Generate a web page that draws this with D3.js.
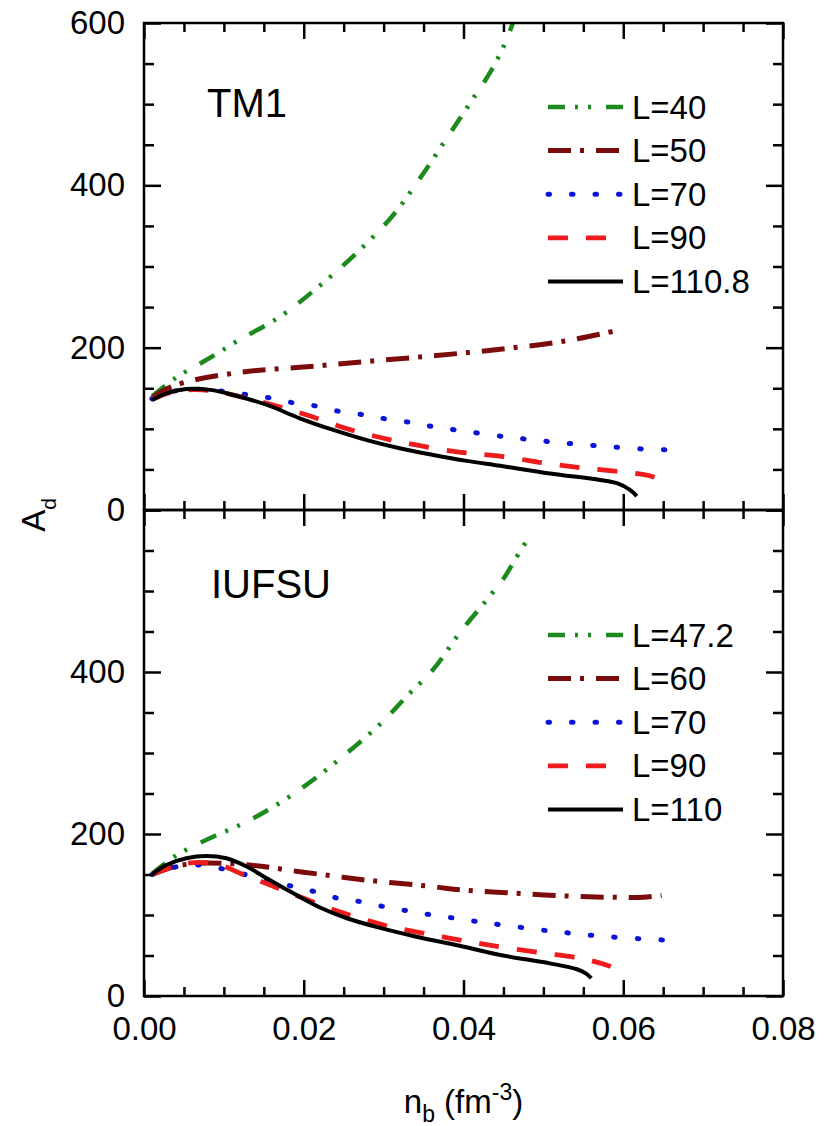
<!DOCTYPE html>
<html>
<head>
<meta charset="utf-8">
<script src="https://cdn.jsdelivr.net/npm/d3@7/dist/d3.min.js"></script>
<style>
  html, body { margin: 0; padding: 0; background: #fff; }
  svg { display: block; }
  text { font-family: "Liberation Sans", Arial, Helvetica, sans-serif; fill: #000; }
</style>
</head>
<body>
<svg id="chart" width="834" height="1126"></svg>
<script>
// ---- Data: A_d versus baryon density n_b (fm^-3) ----
// TM1 parameter set
const tm1_L40_nb = [0.001, 0.004, 0.008, 0.012, 0.017, 0.0216, 0.026, 0.031, 0.0345, 0.0383, 0.0408, 0.0435, 0.0452, 0.0466];
const tm1_L40_Ad = [140, 163, 186, 210, 238, 273, 311, 361, 408, 464, 501, 542, 575, 612];
const tm1_L50_nb = [0.001, 0.002, 0.005, 0.0124, 0.0204, 0.0279, 0.0362, 0.0446, 0.0529, 0.0587];
const tm1_L50_Ad = [137, 145, 157, 170, 176.5, 183, 190, 198, 208.5, 220];
const tm1_L70_nb = [0.001, 0.003, 0.007, 0.0101, 0.0129, 0.0158, 0.0187, 0.0216, 0.0247, 0.0277, 0.0304, 0.0335, 0.0362, 0.0391, 0.0452, 0.051, 0.0569, 0.0628, 0.0657];
const tm1_L70_Ad = [137, 145, 148.7, 146, 142, 138, 132, 128, 121, 117, 112, 107.6, 102.6, 98.6, 90.3, 84, 79, 75, 74];
const tm1_L90_nb = [0.001, 0.003, 0.0055, 0.0085, 0.0115, 0.0155, 0.0204, 0.0258, 0.032, 0.039, 0.045, 0.0504, 0.0554, 0.0604, 0.0637, 0.0658];
const tm1_L90_Ad = [136, 144, 148, 147, 141, 131, 117, 99, 84, 72, 65.7, 57.5, 51.3, 46.4, 41, 31];
const tm1_L1108_nb = [0.001, 0.0028, 0.0053, 0.0083, 0.0112, 0.0154, 0.0195, 0.0237, 0.0279, 0.032, 0.0362, 0.0404, 0.0446, 0.0508, 0.0571, 0.0592, 0.0608, 0.0617];
const tm1_L1108_Ad = [135.5, 143.7, 149, 148, 141.7, 129.4, 113, 98.6, 86, 76, 67.8, 60.5, 54.4, 45, 37, 33, 25, 17];

// IUFSU parameter set
const iu_L472_nb = [0.001, 0.0041, 0.0083, 0.0124, 0.0166, 0.0212, 0.0254, 0.0295, 0.0329, 0.0362, 0.0395, 0.0429, 0.0452, 0.0464, 0.0481];
const iu_L472_Ad = [151, 174, 195, 213, 236, 267, 300, 335, 370, 403, 448, 489, 518, 538, 565];
const iu_L60_nb = [0.001, 0.004, 0.007, 0.0129, 0.0195, 0.0279, 0.0362, 0.0396, 0.0454, 0.0516, 0.0579, 0.0625, 0.0648];
const iu_L60_Ad = [150, 160, 164, 162, 153.5, 143, 135, 131, 127.5, 124, 122, 122, 124];
const iu_L70_nb = [0.001, 0.0041, 0.007, 0.0101, 0.0129, 0.0158, 0.0187, 0.0214, 0.0243, 0.0272, 0.0302, 0.0331, 0.036, 0.0389, 0.0418, 0.0448, 0.0506, 0.0565, 0.0625, 0.0654];
const iu_L70_Ad = [150, 159.6, 161.7, 156.4, 149.4, 143, 135, 128.8, 120.6, 116.4, 110, 105, 100, 96, 91.7, 87.7, 80.6, 74.5, 70.4, 69];
const iu_L90_nb = [0.001, 0.004, 0.007, 0.0095, 0.0124, 0.0158, 0.0195, 0.0245, 0.030, 0.0362, 0.0425, 0.0496, 0.0546, 0.0579, 0.060];
const iu_L90_Ad = [150, 161, 165, 162, 150, 137, 122.6, 104, 87.7, 75.3, 64, 53.5, 46.5, 38.3, 30];
const iu_L110_nb = [0.001, 0.0028, 0.0053, 0.0078, 0.0103, 0.0129, 0.0154, 0.0187, 0.0221, 0.0254, 0.0292, 0.0341, 0.0395, 0.0446, 0.0508, 0.0542, 0.0553, 0.056];
const iu_L110_Ad = [150, 161.7, 170, 172.8, 170, 159.6, 145, 126.8, 109, 96, 85, 73.2, 62, 50.6, 40.3, 33, 28, 22];

// Axis ticks
const xMajorTicks = [0, 0.02, 0.04, 0.06, 0.08];
const xMinorTicks = d3.range(0, 0.0801, 0.005).filter(v => Math.abs(v / 0.02 - Math.round(v / 0.02)) > 1e-6);
const yTopLabels = [0, 200, 400, 600];
const yBotLabels = [0, 200, 400];
const yMajorTicks = [0, 200, 400, 600];
const yMinorTicks = [50, 100, 150, 250, 300, 350, 450, 500, 550];

// Line styles per curve
const styles = [
  { color: "#1c8a1c", width: 4.5, dash: "17,10,3,10,3,15", cap: "butt" },   // lowest L
  { color: "#7c0b0b", width: 5,   dash: "23,9,4,12",         cap: "butt" },   // second L
  { color: "#0a14d6", width: 5,   dash: "1.5,22",            cap: "round" },  // L=70
  { color: "#ee1c1c", width: 4.8, dash: "20,18",             cap: "butt" },   // L=90
  { color: "#000000", width: 4,   dash: null,                cap: "butt" }    // highest L
];

const panels = [
  {
    name: "TM1", id: "top",
    series: [
      { label: "L=40",    nb: tm1_L40_nb,   Ad: tm1_L40_Ad },
      { label: "L=50",    nb: tm1_L50_nb,   Ad: tm1_L50_Ad },
      { label: "L=70",    nb: tm1_L70_nb,   Ad: tm1_L70_Ad },
      { label: "L=90",    nb: tm1_L90_nb,   Ad: tm1_L90_Ad },
      { label: "L=110.8", nb: tm1_L1108_nb, Ad: tm1_L1108_Ad }
    ],
    yLabels: yTopLabels, range: [510, 23], legendY: 107, titleX: 207, titleY: 117
  },
  {
    name: "IUFSU", id: "bottom",
    series: [
      { label: "L=47.2", nb: iu_L472_nb, Ad: iu_L472_Ad },
      { label: "L=60",   nb: iu_L60_nb,  Ad: iu_L60_Ad },
      { label: "L=70",   nb: iu_L70_nb,  Ad: iu_L70_Ad },
      { label: "L=90",   nb: iu_L90_nb,  Ad: iu_L90_Ad },
      { label: "L=110",  nb: iu_L110_nb, Ad: iu_L110_Ad }
    ],
    yLabels: yBotLabels, range: [996, 510], legendY: 635, titleX: 211, titleY: 598
  }
];

const svg = d3.select("#chart");
svg.append("rect").attr("width", 834).attr("height", 1126).attr("fill", "#fff");

const x = d3.scaleLinear().domain([0, 0.08]).range([144, 783]);
const left = x.range()[0], right = x.range()[1];
const legendStep = 43.6;

panels.forEach((p, pi) => {
  const y = d3.scaleLinear().domain([0, 600]).range(p.range);
  const yTop = p.range[1], yBottom = p.range[0];

  // clip region for the curves
  svg.append("clipPath").attr("id", "clip-" + p.id)
    .append("rect").attr("x", left).attr("y", yTop)
    .attr("width", right - left).attr("height", yBottom - yTop);

  const line = d3.line()
    .x(d => x(d[0]))
    .y(d => y(d[1]))
    .curve(d3.curveCatmullRom.alpha(0.5));

  const g = svg.append("g").attr("clip-path", "url(#clip-" + p.id + ")");
  p.series.forEach((s, i) => {
    const st = styles[i];
    const pts = s.nb.map((v, k) => [v, s.Ad[k]]);
    g.append("path")
      .attr("d", line(pts))
      .attr("fill", "none")
      .attr("stroke", st.color)
      .attr("stroke-width", st.width)
      .attr("stroke-linecap", st.cap)
      .attr("stroke-linejoin", "round")
      .attr("stroke-dasharray", st.dash);
  });

  // axes: ticks point into the panel
  const styleAxis = sel => {
    sel.select(".domain").remove();
    sel.selectAll(".tick line").attr("stroke", "#000").attr("stroke-width", 2.5);
    sel.selectAll(".tick text").attr("font-size", 33).attr("fill", "#000")
      .style("font-family", '"Liberation Sans", Arial, sans-serif');
  };

  // left axis
  svg.append("g").attr("transform", `translate(${left},0)`)
    .call(d3.axisLeft(y).tickValues(yMajorTicks).tickSize(-17).tickPadding(19)
      .tickFormat(d => p.yLabels.includes(d) ? d3.format("d")(d) : ""))
    .call(styleAxis);
  svg.append("g").attr("transform", `translate(${left},0)`)
    .call(d3.axisLeft(y).tickValues(yMinorTicks).tickSize(-10).tickFormat(""))
    .call(styleAxis);
  // right axis
  svg.append("g").attr("transform", `translate(${right},0)`)
    .call(d3.axisRight(y).tickValues(yMajorTicks).tickSize(-17).tickFormat(""))
    .call(styleAxis);
  svg.append("g").attr("transform", `translate(${right},0)`)
    .call(d3.axisRight(y).tickValues(yMinorTicks).tickSize(-10).tickFormat(""))
    .call(styleAxis);
  // top edge
  svg.append("g").attr("transform", `translate(0,${yTop})`)
    .call(d3.axisTop(x).tickValues(xMajorTicks).tickSize(-16).tickFormat(""))
    .call(styleAxis);
  svg.append("g").attr("transform", `translate(0,${yTop})`)
    .call(d3.axisTop(x).tickValues(xMinorTicks).tickSize(-9).tickFormat(""))
    .call(styleAxis);
  // bottom edge
  const bottomAxis = d3.axisBottom(x).tickValues(xMajorTicks).tickSize(-16).tickPadding(21)
    .tickFormat(pi === panels.length - 1 ? d3.format(".2f") : "");
  svg.append("g").attr("transform", `translate(0,${yBottom})`)
    .call(bottomAxis)
    .call(styleAxis);
  svg.append("g").attr("transform", `translate(0,${yBottom})`)
    .call(d3.axisBottom(x).tickValues(xMinorTicks).tickSize(-9).tickFormat(""))
    .call(styleAxis);

  // frame
  svg.append("rect")
    .attr("x", left).attr("y", yTop)
    .attr("width", right - left).attr("height", yBottom - yTop)
    .attr("fill", "none").attr("stroke", "#000").attr("stroke-width", 2.5);

  // panel title
  svg.append("text").attr("x", p.titleX).attr("y", p.titleY)
    .attr("font-size", 40).text(p.name);

  // legend
  p.series.forEach((s, i) => {
    const st = styles[i];
    const ly = p.legendY + i * legendStep;
    svg.append("line")
      .attr("x1", 548).attr("x2", 623).attr("y1", ly).attr("y2", ly)
      .attr("stroke", st.color).attr("stroke-width", st.width)
      .attr("stroke-linecap", st.cap)
      .attr("stroke-dasharray", st.dash);
    svg.append("text").attr("x", 632).attr("y", ly).attr("dy", "0.35em")
      .attr("font-size", 33).text(s.label);
  });
});

// y-axis title
const yTitle = svg.append("text")
  .attr("transform", "translate(45,515) rotate(-90)")
  .attr("text-anchor", "middle")
  .attr("font-size", 33);
yTitle.append("tspan").text("A");
yTitle.append("tspan").attr("font-size", 21).attr("dy", 11).text("d");

// x-axis title
const xTitle = svg.append("text")
  .attr("x", (left + right) / 2).attr("y", 1113)
  .attr("text-anchor", "middle")
  .attr("font-size", 33);
xTitle.append("tspan").text("n");
xTitle.append("tspan").attr("font-size", 23).attr("dy", 9).text("b");
xTitle.append("tspan").attr("dy", -9).text(" (fm");
xTitle.append("tspan").attr("font-size", 23).attr("dy", -13).text("-3");
xTitle.append("tspan").attr("dy", 13).text(")");
</script>
</body>
</html>
